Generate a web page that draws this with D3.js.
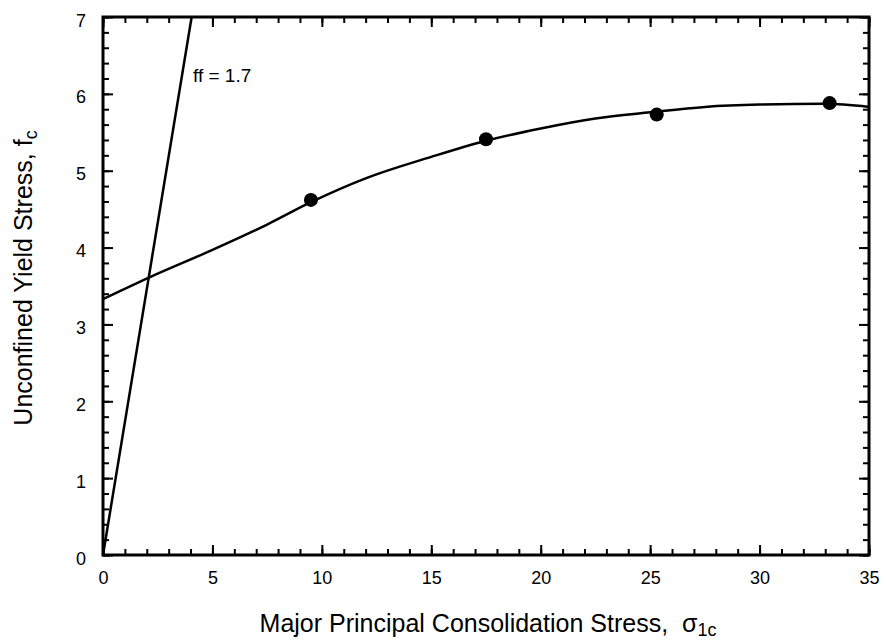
<!DOCTYPE html>
<html>
<head>
<meta charset="utf-8">
<script src="https://cdn.jsdelivr.net/npm/d3@7"></script>
<style>
  body { margin: 0; background: #fff; }
  text { font-family: "Liberation Sans", Arial, sans-serif; fill: #000; }
</style>
</head>
<body>
<script>
// chart size
var svgWidth = 887;
var svgHeight = 641;
var margin = { top: 17, right: 18, bottom: 86, left: 103 };
var chartWidth = svgWidth - margin.left - margin.right;
var chartHeight = svgHeight - margin.top - margin.bottom;

// measured points (sigma_1c, f_c)
var sigma = [9.5, 17.5, 25.3, 33.2];
var fc = [4.62, 5.41, 5.73, 5.88];

// fitted yield locus
var curveSigma = [0, 2.1, 5, 7.5, 9.5, 12, 15, 17.5, 20, 22.5, 25, 27.5, 30, 33, 35];
var curveFc = [3.33, 3.61, 3.97, 4.3, 4.59, 4.9, 5.18, 5.39, 5.55, 5.68, 5.76, 5.83, 5.86, 5.87, 5.83];

// flow function line ff = 1.7
var ffSigma = [0, 4.05];
var ffFc = [0, 7];

var xTicks = [0, 5, 10, 15, 20, 25, 30, 35];
var yTicks = [0, 1, 2, 3, 4, 5, 6, 7];

var svg = d3.select("body").append("svg")
  .attr("width", svgWidth)
  .attr("height", svgHeight);

var chartGroup = svg.append("g")
  .attr("transform", `translate(${margin.left}, ${margin.top})`);

var xScale = d3.scaleLinear().domain([0, 35]).range([0, chartWidth]);
var yScale = d3.scaleLinear().domain([0, 7]).range([chartHeight, 0]);

var minorX = d3.range(0, 36, 1);
var minorY = d3.range(0, 7.01, 0.2);

// axes with inward ticks on all four sides
function drawAxis(axis, tr, showLabels) {
  var g = chartGroup.append("g").attr("transform", tr).call(axis);
  g.select(".domain").remove();
  g.attr("font-size", null).attr("font-family", null);
  g.selectAll("line").attr("stroke", "#000").attr("stroke-width", 2);
  g.selectAll("text").style("font-size", "18px");
  if (!showLabels) g.selectAll("text").remove();
  return g;
}

drawAxis(d3.axisBottom(xScale).tickValues(minorX).tickSize(-6).tickFormat(""), `translate(0,${chartHeight})`, false);
drawAxis(d3.axisBottom(xScale).tickValues(xTicks).tickSize(-10).tickPadding(16).tickFormat(d3.format("d")), `translate(0,${chartHeight})`, true);
drawAxis(d3.axisTop(xScale).tickValues(minorX).tickSize(-6).tickFormat(""), "translate(0,0)", false);
drawAxis(d3.axisTop(xScale).tickValues(xTicks).tickSize(-10), "translate(0,0)", false);

drawAxis(d3.axisLeft(yScale).tickValues(minorY).tickSize(-6).tickFormat(""), "translate(0,0)", false);
drawAxis(d3.axisLeft(yScale).tickValues(yTicks).tickSize(-10).tickPadding(17).tickFormat(d3.format("d")), "translate(0,0)", true)
  .selectAll("text").attr("dy", "0.5em");
drawAxis(d3.axisRight(yScale).tickValues(minorY).tickSize(-6).tickFormat(""), `translate(${chartWidth},0)`, false);
drawAxis(d3.axisRight(yScale).tickValues(yTicks).tickSize(-10), `translate(${chartWidth},0)`, false);

// frame
chartGroup.append("rect")
  .attr("width", chartWidth)
  .attr("height", chartHeight)
  .attr("fill", "none")
  .attr("stroke", "#000")
  .attr("stroke-width", 3);

var line = d3.line()
  .x(d => xScale(d[0]))
  .y(d => yScale(d[1]));

// yield locus
chartGroup.append("path")
  .datum(curveSigma.map((s, i) => [s, curveFc[i]]))
  .attr("d", line.curve(d3.curveMonotoneX))
  .attr("fill", "none")
  .attr("stroke", "#000")
  .attr("stroke-width", 2.5);

// ff line
chartGroup.append("path")
  .datum(ffSigma.map((s, i) => [s, ffFc[i]]))
  .attr("d", d3.line().x(d => xScale(d[0])).y(d => yScale(d[1])))
  .attr("fill", "none")
  .attr("stroke", "#000")
  .attr("stroke-width", 2.5);

chartGroup.append("text")
  .attr("x", 90)
  .attr("y", 65)
  .style("font-size", "19px")
  .text("ff = 1.7");

// data points
chartGroup.selectAll(".pt")
  .data(sigma)
  .enter()
  .append("circle")
  .attr("class", "pt")
  .attr("cx", d => xScale(d))
  .attr("cy", (d, i) => yScale(fc[i]))
  .attr("r", 7)
  .attr("fill", "#000");

// axis titles
var xt = svg.append("text")
  .attr("x", 488)
  .attr("y", 632)
  .attr("text-anchor", "middle")
  .style("font-size", "25px");
xt.append("tspan").text("Major Principal Consolidation Stress,\u00a0\u00a0\u03c3");
xt.append("tspan").attr("dy", 4).style("font-size", "18px").text("1c");

var yt = svg.append("text")
  .attr("transform", `translate(32, 278) rotate(-90)`)
  .attr("text-anchor", "middle")
  .style("font-size", "25px");
yt.append("tspan").text("Unconfined Yield Stress, f");
yt.append("tspan").attr("dy", 5).style("font-size", "18px").text("c");
</script>
</body>
</html>
